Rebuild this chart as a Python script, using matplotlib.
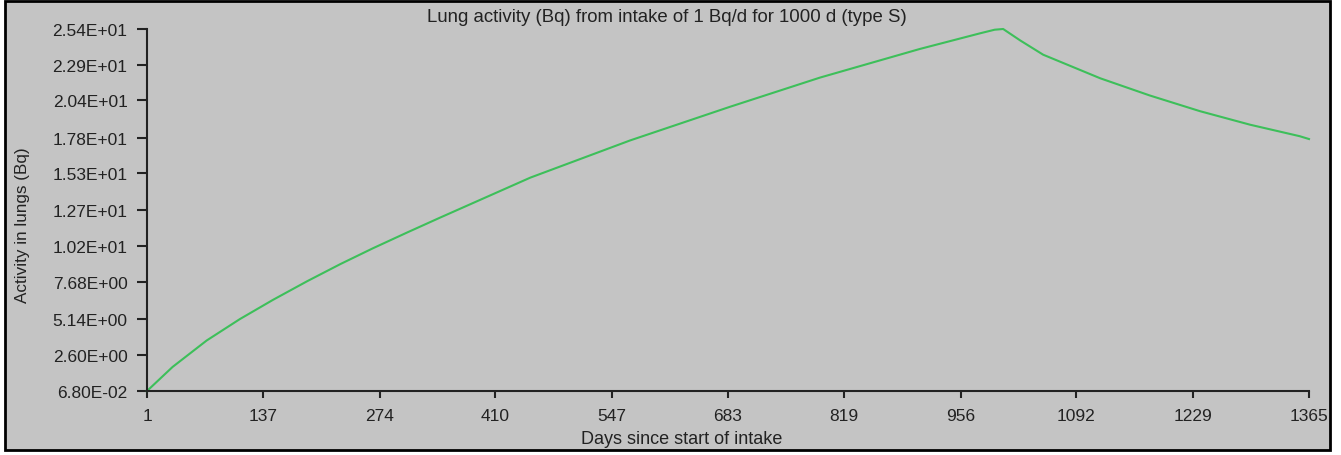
import matplotlib
matplotlib.use('Agg')
import matplotlib.pyplot as plt
from matplotlib.patches import Rectangle

# values
days = [1, 31, 71, 110, 149, 189, 228, 266, 306, 345, 451, 568, 685, 791,
        908, 979, 996, 1006, 1026, 1053, 1120, 1178, 1237, 1296, 1354, 1365]
activity = [0.068, 1.75, 3.6, 5.1, 6.45, 7.75, 8.95, 10.05, 11.15, 12.2,
            15.0, 17.6, 19.95, 22.0, 24.0, 25.1, 25.35, 25.4, 24.6, 23.6,
            21.95, 20.75, 19.65, 18.7, 17.9, 17.7]

xticks = [1, 137, 274, 410, 547, 683, 819, 956, 1092, 1229, 1365]
yticks = [0.068, 2.60, 5.14, 7.68, 10.2, 12.7, 15.3, 17.8, 20.4, 22.9, 25.4]
ytick_labels = ['6.80E-02', '2.60E+00', '5.14E+00', '7.68E+00', '1.02E+01',
                '1.27E+01', '1.53E+01', '1.78E+01', '2.04E+01', '2.29E+01',
                '2.54E+01']

plt.rcParams['font.family'] = ['Liberation Sans', 'DejaVu Sans']
W, H = 1341, 456
bg = '#c4c4c4'
ink = '#222222'

fig = plt.figure(figsize=(W / 100, H / 100), dpi=100, facecolor='white')
fig.patches.append(Rectangle((5 / W, 1 - 451 / H), 1325 / W, 449 / H,
                             transform=fig.transFigure, facecolor=bg,
                             edgecolor='black', linewidth=2, zorder=-5))

ax = fig.add_axes([147 / W, 1 - 392 / H, 1162 / W, 362 / H])
ax.patch.set_visible(False)
ax.plot(days, activity, color='#3dbf5a', linewidth=1.5, clip_on=False)

ax.set_xlim(1, 1365)
ax.set_ylim(0.068, 25.4)
ax.set_xticks(xticks)
ax.set_xticklabels([str(t) for t in xticks])
ax.set_yticks(yticks)
ax.set_yticklabels(ytick_labels)
ax.tick_params(direction='out', width=1.5, labelsize=12.5, colors=ink)
ax.tick_params(axis='y', length=7, pad=7)
ax.tick_params(axis='x', length=5, pad=7)
for s in ['top', 'right']:
    ax.spines[s].set_visible(False)
for s in ['left', 'bottom']:
    ax.spines[s].set_linewidth(1.5)
    ax.spines[s].set_color(ink)

fig.text(667 / W, 1 - 18 / H, 'Lung activity (Bq) from intake of 1 Bq/d for 1000 d (type S)',
         ha='center', va='center', fontsize=13.4, color=ink)
fig.text(682 / W, 1 - 440 / H, 'Days since start of intake',
         ha='center', va='center', fontsize=13, color=ink)
fig.text(23 / W, 1 - 225 / H, 'Activity in lungs (Bq)', rotation=90,
         ha='center', va='center', fontsize=12.3, color=ink)

fig.savefig('out.png', dpi=100, facecolor='white')
